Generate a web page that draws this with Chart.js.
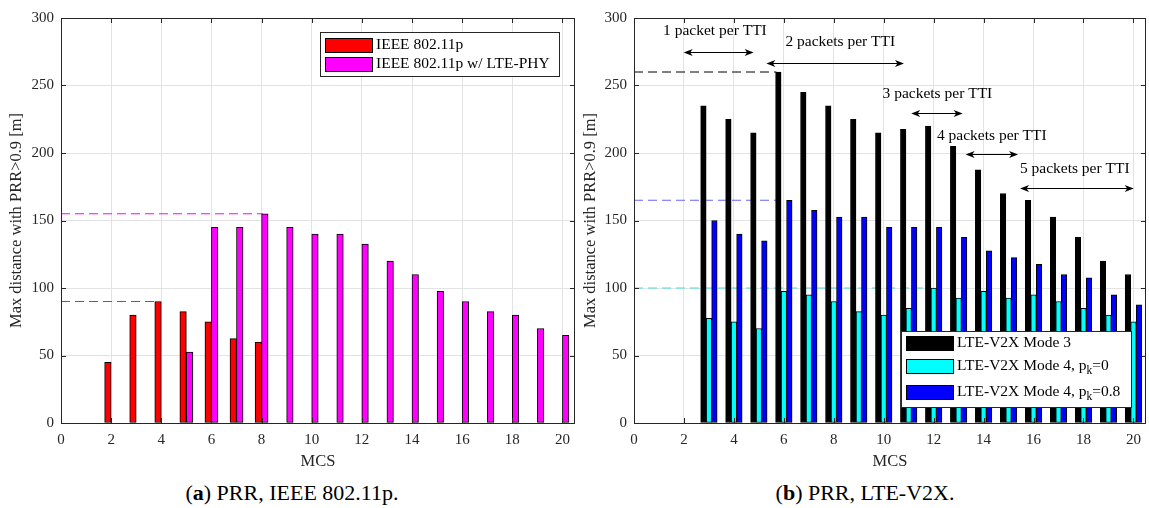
<!DOCTYPE html>
<html>
<head>
<meta charset="utf-8">
<script src="https://cdn.jsdelivr.net/npm/chart.js@4.4.1/dist/chart.umd.min.js"></script>
<style>
  html, body { margin: 0; padding: 0; background: #fff; }
  #wrap { position: relative; width: 1149px; height: 508px; overflow: hidden; }
  canvas { position: absolute; top: 0; }
  .cap { position: absolute; top: 480px; font-family: "Liberation Serif", serif; font-size: 22px;
         line-height: 26px; color: #000; white-space: nowrap; transform: translateX(-50%); }
</style>
</head>
<body>
<div id="wrap">
  <canvas id="left" width="578" height="475" style="left:0"></canvas>
  <canvas id="right" width="571" height="475" style="left:578px"></canvas>
  <div class="cap" style="left:292px">(<b>a</b>) PRR, IEEE 802.11p.</div>
  <div class="cap" style="left:865px">(<b>b</b>) PRR, LTE-V2X.</div>
</div>
<script>
// MCS index on the x axis
const mcs = [1, 2, 3, 4, 5, 6, 7, 8, 9, 10, 11, 12, 13, 14, 15, 16, 17, 18, 19, 20];

// (a) IEEE 802.11p
const ieee80211p = [0, 45, 80, 90, 82.5, 75, 62.5, 60, 0, 0, 0, 0, 0, 0, 0, 0, 0, 0, 0, 0];
const ieeeLtePhy = [0, 0, 0, 0, 52.5, 145, 145, 155, 145, 140, 140, 132.5, 120, 110, 97.5, 90, 82.5, 80, 70, 65];

// (b) LTE-V2X
const mode3 = [0, 0, 235, 225, 215, 260, 245, 235, 225, 215, 217.5, 220, 205, 187.5, 170, 165, 152.5, 137.5, 120, 110];
const mode4pk0 = [0, 0, 77.5, 75, 70, 97.5, 95, 90, 82.5, 80, 85, 100, 92.5, 97.5, 92.5, 95, 90, 85, 80, 75];
const mode4pk08 = [0, 0, 150, 140, 135, 165, 157.5, 152.5, 152.5, 145, 145, 145, 137.5, 127.5, 122.5, 117.5, 110, 107.5, 95, 87.5];

// dashed reference lines: level and where they stop
const leftRefY = [90, 155];
const leftRefEnd = [3.8, 8.05];
const rightRefY = [260, 165, 100];
const rightRefEnd = [5.7, 5.75, 11.85];

// "n packets per TTI" annotations (data coordinates)
const ttiLabels = ['1 packet per TTI', '2 packets per TTI', '3 packets per TTI', '4 packets per TTI', '5 packets per TTI'];
const ttiLabelX = [3.24, 8.26, 12.15, 14.33, 17.65];
const ttiLabelY = [290.6, 282, 243.8, 213, 188.4];
const ttiArrowFrom = [1.99, 5.3, 11.1, 13.28, 15.46];
const ttiArrowTo = [4.79, 10.81, 13.16, 15.38, 20.01];
const ttiArrowY = [274.6, 267, 229.6, 199, 174];

const xTicksStep = 2;
const yTicksStep = 50;

const FONT = '"Liberation Serif", "Times New Roman", serif';
Chart.defaults.font.family = FONT;
Chart.defaults.color = '#262626';
Chart.defaults.animation = false;

function barSet(label, values, color, thickness) {
    return {
        type: 'bar', label, backgroundColor: color, borderColor: '#000', borderWidth: 1,
        borderSkipped: false, barThickness: thickness,
        data: mcs.map((m, i) => ({ x: m, y: values[i] }))
    };
}

function refLine(y, xEnd, color) {
    return {
        type: 'line', label: '', borderColor: color, borderWidth: 1, borderDash: [9, 5],
        pointRadius: 0, fill: false,
        data: [{ x: 0, y: y }, { x: xEnd, y: y }]
    };
}

// box + inward ticks on all four sides, like a MATLAB axes
const framePlugin = {
    id: 'frame',
    afterDatasetsDraw(chart) {
        const { ctx, chartArea: a, scales: { x, y } } = chart;
        ctx.save();
        ctx.strokeStyle = '#262626';
        ctx.lineWidth = 1;
        ctx.beginPath();
        x.ticks.forEach(t => {
            const px = Math.round(x.getPixelForValue(t.value)) + 0.5;
            ctx.moveTo(px, a.bottom); ctx.lineTo(px, a.bottom - 5);
            ctx.moveTo(px, a.top); ctx.lineTo(px, a.top + 5);
        });
        y.ticks.forEach(t => {
            const py = Math.round(y.getPixelForValue(t.value)) + 0.5;
            ctx.moveTo(a.left, py); ctx.lineTo(a.left + 5, py);
            ctx.moveTo(a.right, py); ctx.lineTo(a.right - 5, py);
        });
        ctx.stroke();
        ctx.strokeRect(Math.round(a.left) + 0.5, Math.round(a.top) + 0.5,
            Math.round(a.right - a.left) - 1, Math.round(a.bottom - a.top));
        ctx.restore();
    }
};

// legend with a frame, labels may carry a subscript: "p_k=0"
const boxLegend = {
    id: 'boxLegend',
    afterDraw(chart, args, o) {
        const { ctx, chartArea: a } = chart;
        const bx = Math.round(a.right - o.inset - o.width);
        const by = Math.round(o.fromTop ? a.top + o.offset : a.bottom - o.offset - o.height);
        const items = chart.data.datasets.filter(d => d.type === 'bar');
        ctx.save();
        ctx.fillStyle = '#fff';
        ctx.fillRect(bx, by, o.width, o.height);
        ctx.strokeStyle = '#262626';
        ctx.lineWidth = 1;
        ctx.strokeRect(bx + 0.5, by + 0.5, o.width, o.height);
        ctx.textBaseline = 'middle';
        items.forEach((d, i) => {
            const cy = Math.round(by + o.rows[i]);
            ctx.fillStyle = d.backgroundColor;
            ctx.fillRect(bx + 5, cy - 7, 47, 14);
            ctx.strokeStyle = '#000';
            ctx.strokeRect(bx + 5.5, cy - 6.5, 47, 14);
            ctx.fillStyle = '#000';
            const parts = d.label.split('_');
            let tx = bx + 56;
            ctx.font = '15.5px ' + FONT;
            ctx.fillText(parts[0], tx, cy);
            if (parts.length > 1) {
                tx += ctx.measureText(parts[0]).width;
                ctx.font = '11.5px ' + FONT;
                ctx.fillText(parts[1][0], tx, cy + 5);
                tx += ctx.measureText(parts[1][0]).width;
                ctx.font = '15.5px ' + FONT;
                ctx.fillText(parts[1].slice(1), tx, cy);
            }
        });
        ctx.restore();
    }
};

function arrowHead(ctx, x, y, dir) {
    ctx.beginPath();
    ctx.moveTo(x, y);
    ctx.lineTo(x - dir * 9, y - 3.5);
    ctx.lineTo(x - dir * 6.5, y);
    ctx.lineTo(x - dir * 9, y + 3.5);
    ctx.closePath();
    ctx.fill();
}

const ttiPlugin = {
    id: 'tti',
    afterDatasetsDraw(chart) {
        const { ctx, scales: { x, y } } = chart;
        ctx.save();
        ctx.fillStyle = '#000';
        ctx.strokeStyle = '#000';
        ctx.lineWidth = 1;
        ctx.font = '15.5px ' + FONT;
        ctx.textAlign = 'center';
        ctx.textBaseline = 'middle';
        ttiLabels.forEach((txt, i) => {
            ctx.fillText(txt, x.getPixelForValue(ttiLabelX[i]), y.getPixelForValue(ttiLabelY[i]));
            const x0 = x.getPixelForValue(ttiArrowFrom[i]);
            const x1 = x.getPixelForValue(ttiArrowTo[i]);
            const py = Math.round(y.getPixelForValue(ttiArrowY[i])) + 0.5;
            ctx.beginPath();
            ctx.moveTo(x0 + 6, py); ctx.lineTo(x1 - 6, py);
            ctx.stroke();
            arrowHead(ctx, x0, py, -1);
            arrowHead(ctx, x1, py, 1);
        });
        ctx.restore();
    }
};

function makeOptions(yWidth, yTitlePad, padRight, legend) {
    return {
        responsive: false,
        events: [],
        layout: { padding: { left: 0, top: 18, right: padRight, bottom: 0 } },
        plugins: { legend: { display: false }, tooltip: { enabled: false }, boxLegend: legend },
        scales: {
            x: {
                type: 'linear', min: 0, max: 20.5, offset: false,
                grid: { offset: false, color: '#e3e3e3', drawTicks: false },
                border: { display: false },
                ticks: { stepSize: xTicksStep, includeBounds: false, padding: 8, font: { size: 15 }, color: '#262626' },
                title: { display: true, text: 'MCS', font: { size: 16.5 }, color: '#262626', padding: { top: 0, bottom: 3.5 } },
                afterFit: s => { s.height = 52; }
            },
            y: {
                type: 'linear', min: 0, max: 300,
                grid: { color: '#e3e3e3', drawTicks: false },
                border: { display: false },
                ticks: { stepSize: yTicksStep, padding: 7, font: { size: 15 }, color: '#262626' },
                title: { display: true, text: 'Max distance with PRR>0.9 [m]', font: { size: 16.5 }, color: '#262626', padding: { top: yTitlePad, bottom: 0 } },
                afterFit: s => { s.width = yWidth; }
            }
        }
    };
}

new Chart(document.getElementById('left'), {
    type: 'bar',
    data: {
        datasets: [
            barSet('IEEE 802.11p', ieee80211p, '#ff0000', 6.5),
            barSet('IEEE 802.11p w/ LTE-PHY', ieeeLtePhy, '#ff00ff', 6.5),
            refLine(leftRefY[0], leftRefEnd[0], '#ff2020'),
            refLine(leftRefY[1], leftRefEnd[1], '#ff00ff')
        ]
    },
    options: makeOptions(61, 7, 2.4, { inset: 15.6, offset: 14.3, fromTop: true, width: 239, height: 44, rows: [12.5, 32.2] }),
    plugins: [framePlugin, boxLegend]
});

new Chart(document.getElementById('right'), {
    type: 'bar',
    data: {
        datasets: [
            barSet('LTE-V2X Mode 3', mode3, '#000000', 5.5),
            barSet('LTE-V2X Mode 4, p_k=0', mode4pk0, '#00ffff', 5.5),
            barSet('LTE-V2X Mode 4, p_k=0.8', mode4pk08, '#0000ff', 5.5),
            refLine(rightRefY[0], rightRefEnd[0], '#000000'),
            refLine(rightRefY[1], rightRefEnd[1], '#6666ff'),
            refLine(rightRefY[2], rightRefEnd[2], '#40e0e0')
        ]
    },
    options: makeOptions(56, 3, 2.5, { inset: 14.8, offset: 15.7, fromTop: false, width: 230, height: 76, rows: [11.5, 34.5, 61.2] }),
    plugins: [framePlugin, ttiPlugin, boxLegend]
});
</script>
</body>
</html>
